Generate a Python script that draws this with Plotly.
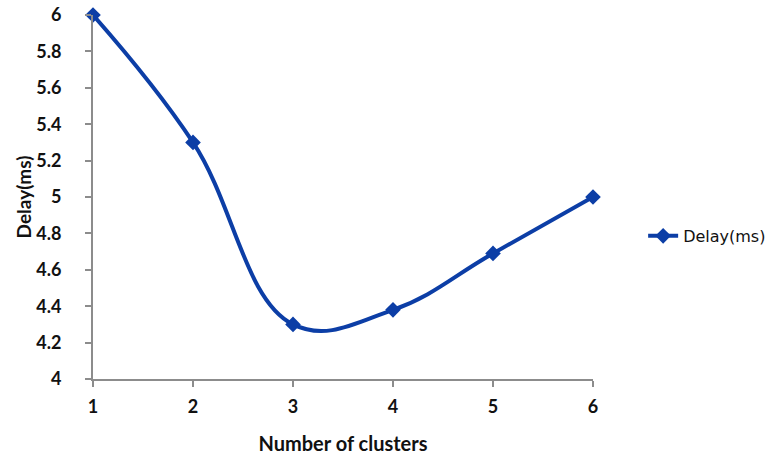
import plotly.graph_objects as go

# Delay measured against the number of clusters
clusters = [1, 2, 3, 4, 5, 6]
delay_ms = [6.0, 5.3, 4.3, 4.38, 4.69, 5.0]
y_ticks = [4, 4.2, 4.4, 4.6, 4.8, 5, 5.2, 5.4, 5.6, 5.8, 6]

LINE_BLUE = "#0c3ea6"
AXIS_GREY = "#8c8c8c"
FONT = "Lato"

fig = go.Figure()
fig.add_trace(go.Scatter(
    x=clusters, y=delay_ms,
    mode="lines+markers",
    name="Delay(ms)",
    line=dict(color=LINE_BLUE, width=4, shape="spline", smoothing=1.15),
    marker=dict(symbol="diamond", size=12, color=LINE_BLUE),
))

fig.update_layout(
    width=773, height=455,
    margin=dict(l=93, r=180, t=15, b=76),
    paper_bgcolor="white", plot_bgcolor="white",
    font=dict(family=FONT, color="#111111"),
    showlegend=True,
    legend=dict(
        xref="container", x=0.832, y=0.393, xanchor="left", yanchor="middle",
        font=dict(family="DejaVu Sans", size=16, color="#111111"),
        bgcolor="rgba(0,0,0,0)",
        borderwidth=0,
    ),
    xaxis=dict(
        range=[1, 6], tickvals=clusters,
        ticktext=[f"<b>{c}</b>" for c in clusters],
        showgrid=False, zeroline=False, automargin=False,
        showline=True, linecolor=AXIS_GREY, linewidth=2,
        ticks="outside", ticklen=6, tickcolor=AXIS_GREY, tickwidth=2,
        tickfont=dict(family=FONT, size=18, color="#111111"),
        ticklabelstandoff=4,
        title=dict(text="<b>Number of clusters</b>", font=dict(family=FONT, size=20), standoff=22),
    ),
    yaxis=dict(
        range=[4, 6], tickvals=y_ticks,
        ticktext=[f"<b>{v:g}</b>" for v in y_ticks],
        showgrid=False, zeroline=False, automargin=False,
        showline=True, linecolor=AXIS_GREY, linewidth=2,
        ticks="outside", ticklen=6, tickcolor=AXIS_GREY, tickwidth=2,
        tickfont=dict(family=FONT, size=18, color="#111111"),
        ticklabelstandoff=20,
        title=dict(text="<b>Delay(ms)</b>", font=dict(family=FONT, size=19), standoff=0),
    ),
)
fig.update_traces(cliponaxis=False)

fig.write_html("out.html")
